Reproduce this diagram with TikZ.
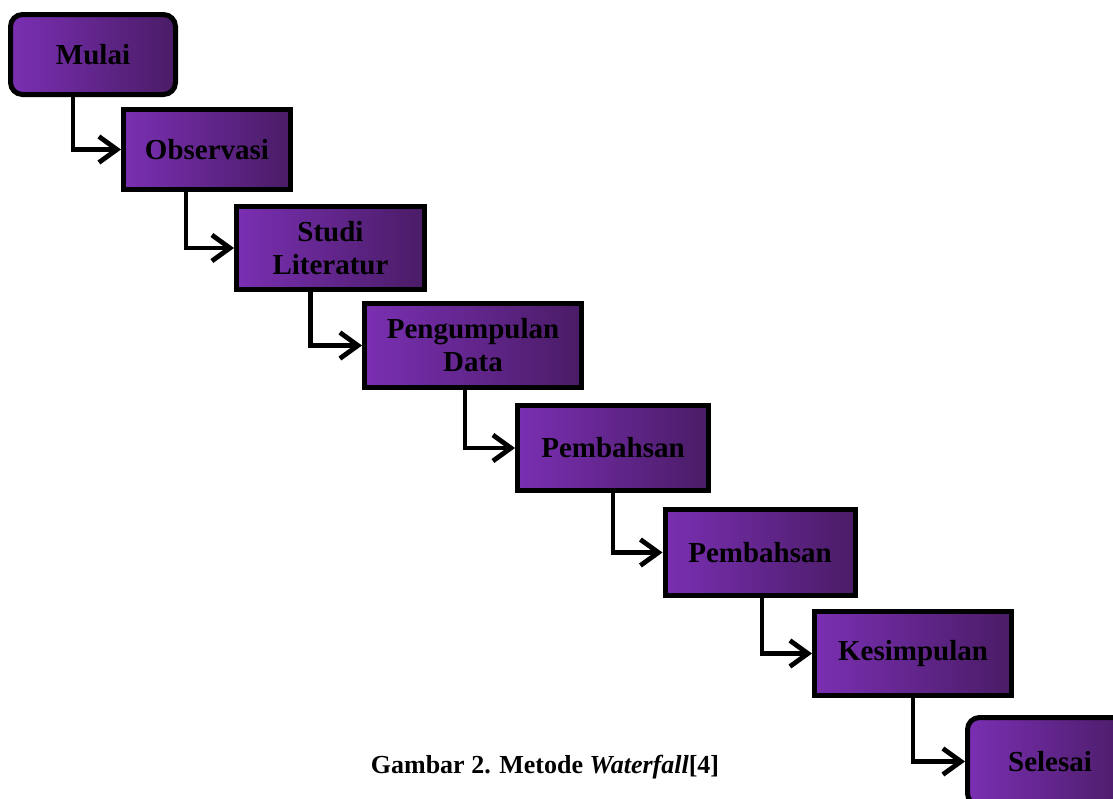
\documentclass[tikz,border=0pt]{standalone}
\usepackage{fontspec}
\setmainfont{Liberation Serif}
\usetikzlibrary{arrows.meta}

\definecolor{purpleL}{HTML}{7A2FB2}
\definecolor{purpleD}{HTML}{4A1C66}

\begin{document}
\begin{tikzpicture}[x=0.5pt,y=-0.5pt,->,>={Straight Barb[length=9pt,width=13pt]},
                    line width=2.4pt,
                    stepbox/.style={draw,line width=2.5pt,left color=purpleL,right color=purpleD,
                                    align=center,inner sep=0pt,
                                    font=\fontsize{14.5}{16.5}\selectfont\bfseries},
                    endbox/.style={stepbox,rounded corners=6pt},
                    elbow/.style={to path={|- (\tikztotarget)}}]

  \useasboundingbox (0,0) rectangle (1113,798);
  \clip (0,0) rectangle (1113,798);

  \node[endbox,minimum width=82.5pt,minimum height=40pt]    (mulai) at (93,54.5)   {Mulai};
  \node[stepbox,minimum width=83.5pt,minimum height=40pt]   (obs)   at (207,149.5) {Observasi};
  \node[stepbox,minimum width=94pt,minimum height=41.5pt]   (studi) at (330.5,248) {Studi\\Literatur};
  \node[stepbox,minimum width=108.5pt,minimum height=42pt]  (peng)  at (473,345.5) {Pengumpulan\\Data};
  \node[stepbox,minimum width=95.5pt,minimum height=42.5pt] (bahas) at (613,448)   {Pembahsan};
  \node[stepbox,minimum width=95pt,minimum height=43pt]     (bahasb) at (760,552.5) {Pembahsan};
  \node[stepbox,minimum width=98.5pt,minimum height=42pt]   (simpul) at (913,653.5) {Kesimpulan};
  \node[endbox,minimum width=82.5pt,minimum height=44pt]    (selesai) at (1050,761.5) {Selesai};

  \path ([xshift=-10pt]mulai.south)  edge [elbow] (obs.west)
        ([xshift=-10.5pt]obs.south)  edge [elbow] (studi.west)
        ([xshift=-10pt]studi.south)  edge [elbow] (peng.west)
        ([xshift=-4pt]peng.south)    edge [elbow] (bahas.west)
        (bahas.south)                edge [elbow] (bahasb.west)
        ([xshift=1pt]bahasb.south)   edge [elbow] (simpul.west)
        (simpul.south)               edge [elbow] (selesai.west);

  \node[font=\fontsize{13}{15}\selectfont\bfseries,anchor=base] (caption) at (545,773)
       {Gambar 2. Metode \textit{Waterfall}[4]};
\end{tikzpicture}
\end{document}
